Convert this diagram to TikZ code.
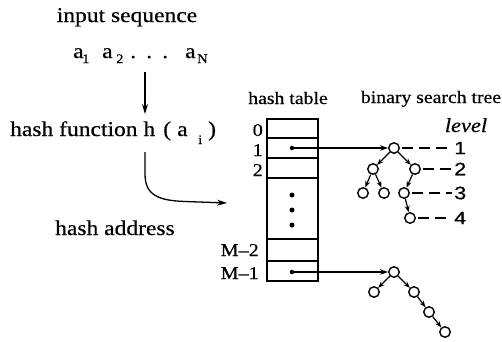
\documentclass[tikz,border=0pt]{standalone}
\usepackage{fontspec}
\setmainfont{Liberation Serif}[FakeStretch=1.12, FakeBold=0.5]
\newfontfamily\lvlfont{Liberation Sans}[FakeStretch=1.2, FakeBold=0.5]
\usetikzlibrary{arrows.meta}

% place a token at a fixed offset inside a line of text
\newcommand\seqat[2]{\makebox[0pt][l]{\hspace*{#1}#2}}
\newcommand\fs[1]{\fontsize{#1}{#1}\selectfont}
\newcommand\subsc[2]{\raisebox{-#1}{\fs{13}#2}}

\begin{document}
\begin{tikzpicture}[x=1pt,y=-1pt,
  txt/.style={inner sep=0pt, font=\fs{21}},
  small/.style={inner sep=0pt, font=\fs{17.6}},
  rowlbl/.style={inner sep=0pt, font=\fs{18}, anchor=base east},
  tnode/.style={circle, draw, line width=1.4pt, minimum size=10.5pt, inner sep=0pt},
  tedge/.style={line width=1.2pt, -{Stealth[length=6.5pt,width=5pt]}},
  ptr/.style={line width=1.1pt, -{Stealth[length=8pt,width=5.5pt]}},
  lvl/.style={line width=1.3pt, dash pattern=on 11pt off 6pt},
  lvlnum/.style={inner sep=0pt, anchor=west, font=\lvlfont\fs{18}},
  flow/.style={line width=1.3pt, -{Stealth[length=10pt,width=6pt]}},
  dotpt/.style={circle, fill, inner sep=0pt, minimum size=#1},
  dotpt/.default=4.5pt,
  tbl/.style={line width=1.5pt},
]
\useasboundingbox (0,0) rectangle (502,341);

% ---- input side ----
\node[txt, anchor=base] (inseq) at (127,22) {input sequence};
\node[txt, anchor=base west] (seq) at (73,58)
  {\seqat{0pt}{a}\seqat{9pt}{\subsc{5pt}{1}}\seqat{29pt}{a}\seqat{43pt}{\subsc{5pt}{2}}%
   \seqat{57pt}{.}\seqat{73pt}{.}\seqat{89pt}{.}%
   \seqat{112pt}{a}\seqat{124pt}{\subsc{5pt}{N}}\hspace*{138pt}};

\coordinate (seqout) at (145,72);
\coordinate (hin) at (145,114);
\draw[flow] (seqout) -- (hin);

\node[txt, anchor=base west] (hfunc) at (10,136)
  {hash function h\seqat{8pt}{(}\seqat{22pt}{a}\seqat{43pt}{\subsc{8pt}{\fs{13}i}}\seqat{53pt}{)}\hspace*{60pt}};

\coordinate (hout) at (145,152);
\coordinate (ain) at (227,203);
\draw[flow] (hout) -- (145,174) .. controls (145,195) and (158,200.5) .. (185,201.5) -- (ain);

\node[txt, anchor=base west] (haddr) at (55,235) {hash address};

% ---- hash table ----
\node[small, anchor=base] (htlbl) at (288,104) {hash table};
\draw[tbl] (267,119) rectangle (318,281);
\foreach \yy in {138,158,178,239,261} \draw[tbl] (267,\yy) -- (318,\yy);

\node[rowlbl] (r0) at (263,136) {0};
\node[rowlbl] (r1) at (263,156) {1};
\node[rowlbl] (r2) at (263,176) {2};
\node[rowlbl] (rm2) at (259,256) {M--2};
\node[rowlbl] (rm1) at (259,279) {M--1};

\node[dotpt] (p1) at (292,148) {};
\node[dotpt=5pt] (d1) at (292,195) {};
\node[dotpt=5pt] (d2) at (292,210) {};
\node[dotpt=5pt] (d3) at (292,225) {};
\node[dotpt] (p2) at (292,272) {};

% ---- binary search trees ----
\node[small, anchor=base] (bstlbl) at (431,103) {binary search tree};
\node[anchor=base, inner sep=0pt, font=\fs{20}\itshape] (lvllbl) at (466,132) {level};

\node[tnode] (t1) at (394,148) {};
\node[tnode] (t1l) at (373,169) {};
\node[tnode] (t1r) at (415,169) {};
\node[tnode] (t1ll) at (363,193) {};
\node[tnode] (t1lr) at (384,193) {};
\node[tnode] (t1rl) at (404,193) {};
\node[tnode] (t1rll) at (410,218) {};

\draw[tedge] (t1) -- (t1l);
\draw[tedge] (t1) -- (t1r);
\draw[tedge] (t1l) -- (t1ll);
\draw[tedge] (t1l) -- (t1lr);
\draw[tedge] (t1r) -- (t1rl);
\draw[tedge] (t1rl) -- (t1rll);

\node[lvlnum] (lv1) at (454,148) {1};
\node[lvlnum] (lv2) at (454,169) {2};
\node[lvlnum] (lv3) at (454,193) {3};
\node[lvlnum] (lv4) at (454,218) {4};

\draw[lvl] ([xshift=2pt]t1.east) -- ([xshift=-2pt]lv1.west);
\draw[lvl] ([xshift=2pt]t1r.east) -- ([xshift=-2pt]lv2.west);
\draw[lvl] ([xshift=2pt]t1rl.east) -- ([xshift=-2pt]lv3.west);
\draw[lvl] ([xshift=2pt]t1rll.east) -- ([xshift=-4pt]lv4.west);

\node[tnode] (t2) at (394,272) {};
\node[tnode] (t2l) at (374,292) {};
\node[tnode] (t2r) at (414,292) {};
\node[tnode] (t2rr) at (429,312) {};
\node[tnode] (t2rrr) at (445,332) {};

\draw[tedge] (t2) -- (t2l);
\draw[tedge] (t2) -- (t2r);
\draw[tedge] (t2r) -- (t2rr);
\draw[tedge] (t2rr) -- (t2rrr);

\draw[ptr] (p1) -- (t1);
\draw[ptr] (p2) -- (t2);
\end{tikzpicture}
\end{document}
